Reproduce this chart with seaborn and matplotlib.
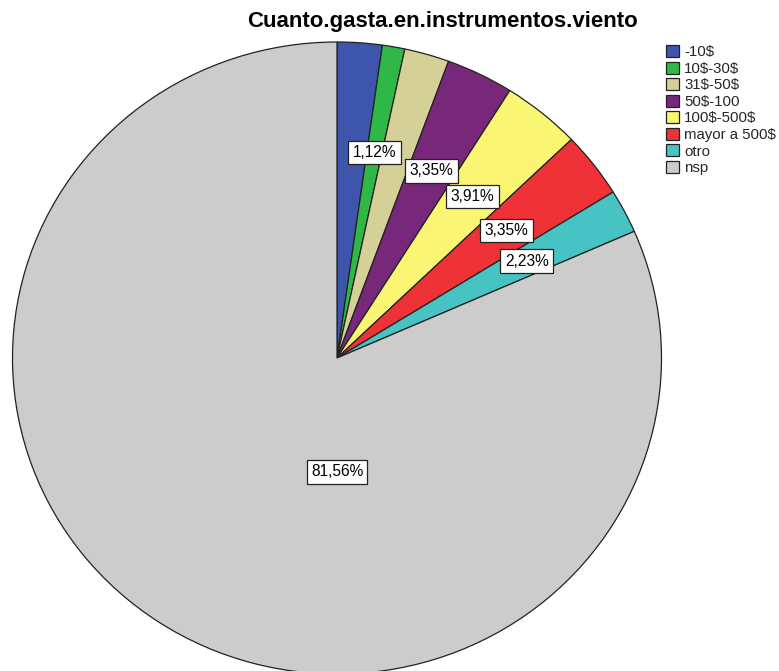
import matplotlib
matplotlib.use("Agg")
import matplotlib.pyplot as plt
import numpy as np
import seaborn as sns

# Spending on wind instruments (counts out of 179 respondents)
categories = ["-10$", "10$-30$", "31$-50$", "50$-100", "100$-500$",
              "mayor a 500$", "otro", "nsp"]
counts = [4, 2, 4, 6, 7, 6, 4, 146]
pct_labels = ["", "1,12%", "", "3,35%", "3,91%", "3,35%", "2,23%", "81,56%"]
colors = ["#3D56AB", "#2FB847", "#D5CF98", "#78287A", "#FAF674",
          "#EF3138", "#47C3C4", "#CCCCCC"]
title = "Cuanto.gasta.en.instrumentos.viento"

sns.set_theme(style="white")
plt.rcParams["font.family"] = ["Liberation Sans", "DejaVu Sans"]
plt.rcParams["text.parse_math"] = False
palette = sns.color_palette(colors)

W, H = 779, 671
fig = plt.figure(figsize=(W / 100, H / 100), dpi=100)
ax = fig.add_axes([0, 0, 1, 1])

wedges, _ = ax.pie(counts, colors=palette, startangle=90, counterclock=False,
                   radius=1.0, center=(0, 0),
                   wedgeprops=dict(edgecolor="#222222", linewidth=0.9))

# slightly oval pie, centred left of the legend
cx, cy, rx, ry = 337, 358, 324.5, 316
ax.set_aspect("auto")
ax.set_xlim(-cx / rx, (W - cx) / rx)
ax.set_ylim(-(H - cy) / ry, cy / ry)
ax.axis("off")

box = dict(boxstyle="square,pad=0.28", facecolor="white", edgecolor="#222222",
           linewidth=0.9)
for w, lab in zip(wedges, pct_labels):
    if not lab:
        continue
    if lab == pct_labels[-1]:
        x, y = 0.0, -0.36
    else:
        ang = np.deg2rad((w.theta1 + w.theta2) / 2)
        x, y = 0.66 * np.cos(ang), 0.66 * np.sin(ang)
    ax.text(x, y, lab, ha="center", va="center", fontsize=11.2, color="black",
            bbox=box)

fig.text(442 / W, 1 - 22 / H, title, ha="center", va="center",
         fontsize=16, fontweight="bold", color="black")

leg = fig.legend(wedges, categories, loc="upper left",
                 bbox_to_anchor=(666 / W, 1 - 45 / H), frameon=False,
                 fontsize=10.8, handlelength=0.85, handleheight=0.85,
                 handletextpad=0.35, labelspacing=0.16, borderaxespad=0,
                 borderpad=0)

fig.savefig("out.png", dpi=100)
